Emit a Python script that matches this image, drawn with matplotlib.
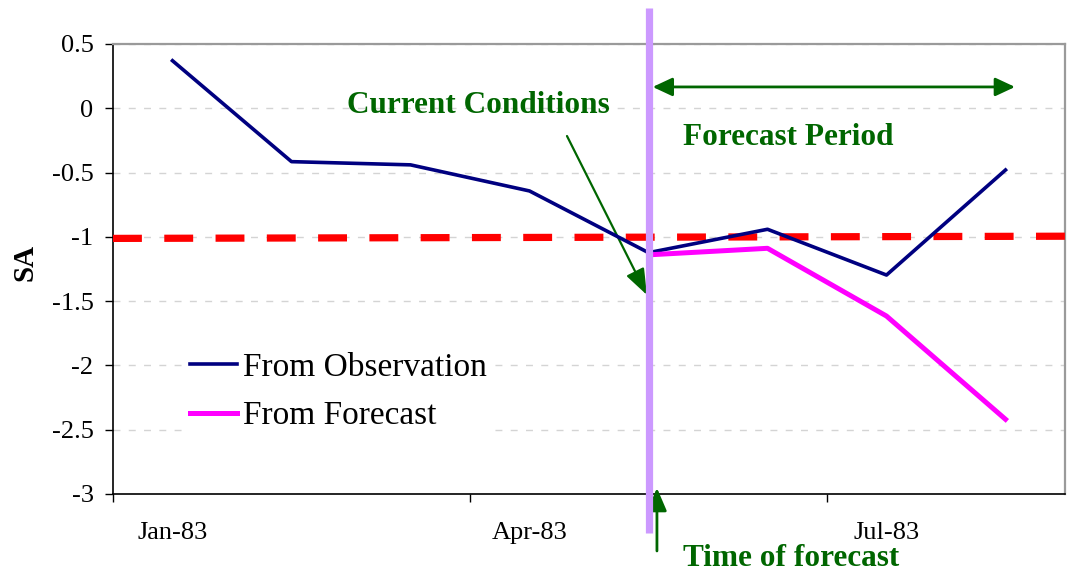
import matplotlib
matplotlib.use("Agg")
import matplotlib.pyplot as plt
import numpy as np

plt.rcParams['font.family'] = ['Liberation Serif', 'DejaVu Serif']
plt.rcParams['axes.unicode_minus'] = False

# Monthly series, Jan-83 .. Aug-83
months = ['Jan-83', 'Feb-83', 'Mar-83', 'Apr-83', 'May-83', 'Jun-83', 'Jul-83', 'Aug-83']
observed = [0.37, -0.415, -0.44, -0.643, -1.123, -0.941, -1.297, -0.48]
forecast = [np.nan, np.nan, np.nan, np.nan, -1.14, -1.089, -1.616, -2.419]

# Threshold line across the whole axis (slight drift left to right)
threshold_x = [-0.5, 7.5]
threshold_y = [-1.012, -0.995]

forecast_start = 4  # May-83
shown_labels = {0: 'Jan-83', 3: 'Apr-83', 6: 'Jul-83'}
y_ticks = [0.5, 0, -0.5, -1, -1.5, -2, -2.5, -3]
y_tick_labels = ['0.5', '0', '-0.5', '-1', '-1.5', '-2', '-2.5', '-3']

green = '#006600'
x = np.arange(len(months))

fig = plt.figure(figsize=(10.71, 5.73), dpi=100)
ax = fig.add_axes([113/1071, 1-494/573, (1065-113)/1071, (494-44)/573])

ax.set_xlim(-0.5, 7.5)
ax.set_ylim(-3, 0.5)

# grid
ax.set_yticks(y_ticks)
ax.set_yticklabels(y_tick_labels)
ax.yaxis.grid(True, color='#d4d4d4', linestyle=(0, (5, 6)), linewidth=1.0)
ax.set_axisbelow(True)

# x axis: tick marks between quarters, labels on the quarter months
ax.set_xticks([-0.5, 2.5, 5.5])
ax.set_xticklabels(['', '', ''])
ax.set_xticks(list(shown_labels.keys()), minor=True)
ax.set_xticklabels(list(shown_labels.values()), minor=True)
ax.tick_params(axis='x', which='major', direction='out', length=6, width=1, color='black')
ax.tick_params(axis='x', which='minor', length=0, pad=20, labelsize=19)
ax.tick_params(axis='y', direction='out', length=6, width=1, pad=8, labelsize=19)

for s in ['left', 'bottom']:
    ax.spines[s].set_color('black')
    ax.spines[s].set_linewidth(1.2)
for s in ['top', 'right']:
    ax.spines[s].set_color('#9a9a9a')
    ax.spines[s].set_linewidth(1.6)

ax.plot(threshold_x, threshold_y, color='#ff0000', linewidth=5.2,
        dashes=(4.0, 3.1), zorder=3)
ax.plot(x, observed, color='#000080', linewidth=2.6, label='From Observation', zorder=4)
ax.plot(x, forecast, color='#ff00ff', linewidth=3.6, label='From Forecast', zorder=4)

# time-of-forecast marker
ax.plot([forecast_start, forecast_start], [-3.303, 0.78], color='#cc99ff',
        linewidth=5.2, solid_capstyle='butt', clip_on=False, zorder=5)

leg = ax.legend(loc='upper left', bbox_to_anchor=(0.074, 0.33), fontsize=24,
                frameon=True, facecolor='white', edgecolor='none', framealpha=1,
                handlelength=1.4, handletextpad=0.2, labelspacing=0.55,
                borderpad=0.2, borderaxespad=0)
leg.get_frame().set_linewidth(0)

ax.set_ylabel('SA', fontsize=21, fontweight='bold', labelpad=0)
ax.yaxis.set_label_coords(-75/952, 0.5 + 7/450)

# annotations
ax.annotate('', xy=(4.035, 0.166), xytext=(7.08, 0.166),
            arrowprops=dict(arrowstyle='<|-|>,head_length=0.6,head_width=0.28',
                            mutation_scale=20, lw=2, color=green,
                            shrinkA=0, shrinkB=0), annotation_clip=False)
ax.text(4.29, -0.286, 'Forecast Period', fontsize=22.5, fontweight='bold',
        color=green, ha='left', va='baseline')

ax.annotate('', xy=(3.987, -1.452), xytext=(3.315, -0.2156),
            arrowprops=dict(arrowstyle='-|>,head_length=0.8,head_width=0.3',
                            mutation_scale=20, lw=1.6, color=green,
                            shrinkA=0, shrinkB=0), annotation_clip=False)
ax.text(1.466, -0.037, 'Current Conditions', fontsize=22.5, fontweight='bold',
        color=green, ha='left', va='baseline')

ax.annotate('', xy=(4.071, -2.953), xytext=(4.071, -3.443),
            arrowprops=dict(arrowstyle='-|>,head_length=0.7,head_width=0.3',
                            mutation_scale=20, lw=2, color=green,
                            shrinkA=0, shrinkB=0), annotation_clip=False)
ax.text(4.29, 0.5 - (566 - 44) / 128.57, 'Time of forecast', fontsize=22.5,
        fontweight='bold', color=green, ha='left', va='baseline', clip_on=False)

fig.savefig('out.png', dpi=100)
